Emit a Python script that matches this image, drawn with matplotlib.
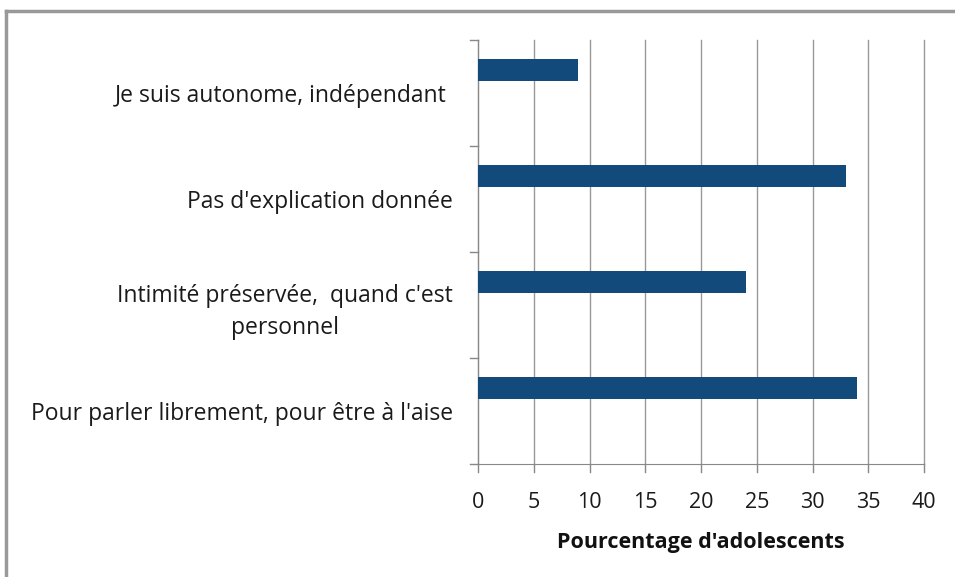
import matplotlib
matplotlib.use("Agg")
import matplotlib.pyplot as plt
from matplotlib.lines import Line2D
import numpy as np

categories = [
    "Pour parler librement, pour être à l'aise",
    "Intimité préservée,  quand c'est\npersonnel",
    "Pas d'explication donnée",
    "Je suis autonome, indépendant ",
]
values = [34, 24, 33, 9]
xticks = [0, 5, 10, 15, 20, 25, 30, 35, 40]
xlabel = "Pourcentage d'adolescents"

plt.rcParams['font.family'] = ['Open Sans', 'DejaVu Sans']

W, H = 955, 577
fig = plt.figure(figsize=(W / 100, H / 100), dpi=100)
fig.patch.set_facecolor('white')

left, right = 478 / W, 924 / W
top, bottom = 40 / H, 464 / H
ax = fig.add_axes([left, 1 - bottom, right - left, bottom - top])

y = np.arange(len(categories))
bar_h = 0.21
ax.barh(y + 0.215, values, height=bar_h, color='#124a7c', zorder=3)

ax.set_xlim(0, 40)
ax.set_ylim(-0.5, len(categories) - 0.5)
ax.set_xticks(xticks)
ax.set_xticklabels([str(t) for t in xticks], fontsize=15.5, color='#1a1a1a')
ax.set_yticks(y)
ax.set_yticklabels(categories, fontsize=16.5, color='#1a1a1a', ha='right',
                   multialignment='center', linespacing=1.45)
ax.tick_params(axis='y', length=0, pad=18)
ax.tick_params(axis='x', length=0, pad=20)

# boundary ticks
for b in np.arange(-0.5, len(categories), 1.0):
    ax.plot([-0.7, 0], [b, b], color='#888888', lw=1, clip_on=False, zorder=4)
for t in xticks:
    ax.plot([t, t], [-0.5, -0.58], color='#888888', lw=1, clip_on=False, zorder=4)

ax.grid(axis='x', color='#999999', lw=1, zorder=0)
for gl in ax.get_xgridlines():
    gl.set_clip_on(False)
for s in ['top', 'right']:
    ax.spines[s].set_visible(False)
ax.spines['left'].set_color('#888888')
ax.spines['bottom'].set_color('#888888')

ax.set_xlabel(xlabel, fontsize=15.5, fontweight='bold', labelpad=14, color='#111111')

# outer frame (left and top only)
fig.add_artist(Line2D([6 / W, 6 / W], [0, 1 - 11 / H], color='#999999', lw=2.5, transform=fig.transFigure))
fig.add_artist(Line2D([6 / W, 1], [1 - 11 / H, 1 - 11 / H], color='#999999', lw=2.5, transform=fig.transFigure))

fig.savefig('out.png', dpi=100)
